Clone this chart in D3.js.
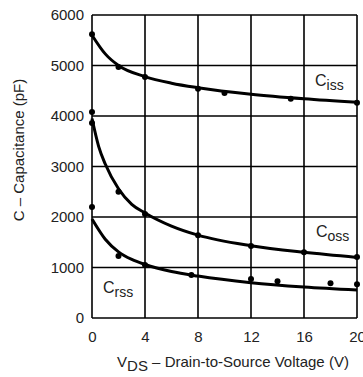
<!DOCTYPE html>
<meta charset="utf-8">
<style>
body { margin: 0; background: #fff; }
text { font-family: "Liberation Sans", Arial, sans-serif; fill: #222; }
.tick text { font-size: 15px; }
.grid line { stroke: #000; stroke-width: 1.6; }
.curve { fill: none; stroke: #000; stroke-width: 3; }
</style>
<svg width="363" height="377"></svg>
<script src="https://d3js.org/d3.v7.min.js"></script>
<script>

// measured points (V, pF)
var cissPts = [[0, 5620], [2, 4970], [4, 4770], [8, 4540], [10, 4455], [15, 4340], [20, 4260]];
var cossPts = [[0, 4080], [0, 3860], [2, 2500], [4, 2060], [8, 1640], [12, 1425], [16, 1300], [20, 1210]];
var crssPts = [[0, 2200], [2, 1230], [4, 1050], [7.5, 850], [12, 770], [14, 730], [18, 690], [20, 670]];

// fitted curves
var cissCurve = [[0, 5600], [1, 5230], [2, 5000], [4, 4780], [6, 4650], [8, 4560], [12, 4430], [16, 4340], [20, 4270]];
var cossCurve = [[0, 3950], [0.5, 3400], [1, 3050], [2, 2560], [3, 2250], [4, 2080], [6, 1820], [8, 1640], [12, 1430], [16, 1300], [20, 1200]];
var crssCurve = [[0, 1960], [1, 1560], [2, 1310], [3, 1160], [4, 1060], [6, 920], [8, 830], [12, 700], [16, 615], [20, 555]];

var xTicks = [0, 4, 8, 12, 16, 20];
var yTicks = [0, 1000, 2000, 3000, 4000, 5000, 6000];

var svg = d3.select("svg"),
    pLeft = 92, pRight = 357, pTop = 15, pBottom = 318;

var x = d3.scaleLinear().domain([0, 20]).range([pLeft, pRight]),
    y = d3.scaleLinear().domain([0, 6000]).range([pBottom, pTop]);

// grid
var grid = svg.append("g").attr("class", "grid");
grid.selectAll(".v").data(xTicks).enter().append("line")
    .attr("x1", x).attr("x2", x).attr("y1", pTop).attr("y2", pBottom);
grid.selectAll(".h").data(yTicks).enter().append("line")
    .attr("x1", pLeft).attr("x2", pRight).attr("y1", y).attr("y2", y);

// axes (labels only)
svg.append("g").attr("transform", "translate(" + pLeft + ",0)")
    .call(d3.axisLeft(y).tickValues(yTicks).tickFormat(d3.format("d")).tickSize(0).tickPadding(8))
    .call(g => g.select(".domain").remove());
svg.append("g").attr("transform", "translate(0," + pBottom + ")")
    .call(d3.axisBottom(x).tickValues(xTicks).tickFormat(d3.format("d")).tickSize(0).tickPadding(13))
    .call(g => g.select(".domain").remove());

var line = d3.line().x(d => x(d[0])).y(d => y(d[1])).curve(d3.curveMonotoneX);

[cissCurve, cossCurve, crssCurve].forEach(function(c) {
  svg.append("path").attr("class", "curve").attr("d", line(c));
});

[cissPts, cossPts, crssPts].forEach(function(p) {
  svg.append("g").selectAll("circle").data(p).enter().append("circle")
      .attr("cx", d => x(d[0])).attr("cy", d => y(d[1])).attr("r", 3).attr("fill", "#000");
});

// series labels
function label(tx, ty, sub) {
  var t = svg.append("text").attr("x", tx).attr("y", ty).style("font-size", "16px");
  t.append("tspan").text("C");
  t.append("tspan").attr("dy", 4).style("font-size", "14px").text(sub);
}
label(315, 86, "iss");
label(316, 237, "oss");
label(103, 293, "rss");

// axis titles
var xt = svg.append("text").attr("x", 233).attr("y", 367)
    .attr("text-anchor", "middle").style("font-size", "15px");
xt.append("tspan").text("V");
xt.append("tspan").attr("dy", 4).text("DS");
xt.append("tspan").attr("dy", -4).text(" – Drain-to-Source Voltage (V)");

svg.append("text").attr("transform", "translate(24,150) rotate(-90)")
    .attr("text-anchor", "middle").style("font-size", "15px")
    .text("C – Capacitance (pF)");

</script>
